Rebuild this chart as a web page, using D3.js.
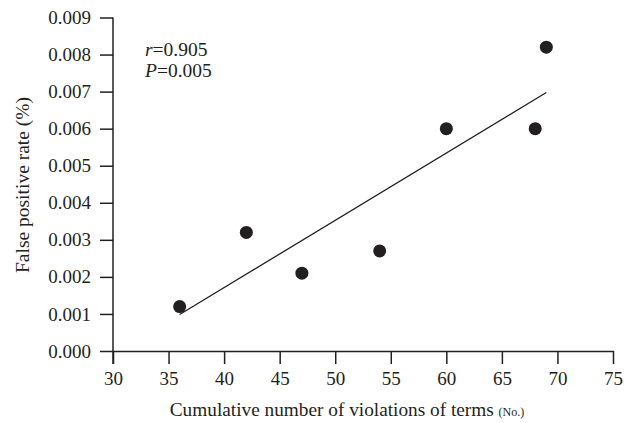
<!DOCTYPE html>
<html>
<head>
<meta charset="utf-8">
<script src="https://cdn.jsdelivr.net/npm/d3@7"></script>
<style>
  body { margin: 0; background: #fff; }
  svg text { font-family: "Liberation Serif", "DejaVu Serif", serif; fill: #231f20; }
</style>
</head>
<body>
<script>
const w = 624,
  h = 423;

// values
const violations = [36, 42, 47, 54, 60, 68, 69];
const falsePositive = [0.0012, 0.0032, 0.0021, 0.0027, 0.006, 0.006, 0.0082];
const xTicks = [30, 35, 40, 45, 50, 55, 60, 65, 70, 75];
const yTicks = [0, 0.001, 0.002, 0.003, 0.004, 0.005, 0.006, 0.007, 0.008, 0.009];
const statsText = [['r', '=0.905'], ['P', '=0.005']];

const x = d3.scaleLinear().domain([30, 75]).range([113, 613]);
const y = d3.scaleLinear().domain([0, 0.009]).range([351, 17.5]);

const svg = d3.select('body').append('svg').attr('width', w).attr('height', h);

// least squares fit
const mx = d3.mean(violations),
  my = d3.mean(falsePositive);
const slope =
  d3.sum(violations, (v, i) => (v - mx) * (falsePositive[i] - my)) /
  d3.sum(violations, v => (v - mx) * (v - mx));
const icpt = my - slope * mx;
const x0 = d3.min(violations),
  x1 = d3.max(violations);

const xAxis = d3.axisBottom(x).tickValues(xTicks).tickSize(13).tickPadding(8).tickSizeOuter(0);
const yAxis = d3
  .axisLeft(y)
  .tickValues(yTicks)
  .tickSize(13)
  .tickPadding(9)
  .tickSizeOuter(0)
  .tickFormat(d3.format('.3f'));

const gx = svg.append('g').attr('transform', `translate(0,${y(0)})`).call(xAxis);
const gy = svg.append('g').attr('transform', `translate(${x(30)},0)`).call(yAxis);

[gx, gy].forEach(g => {
  g.selectAll('path, line').attr('stroke', '#231f20').attr('stroke-width', 1.5);
  g.selectAll('text').attr('font-size', 19).style('fill', '#231f20');
});
// y axis runs down to meet the first x tick
gy.select('.domain').attr('d', `M0,${y(0.009)}V${y(0) + 13}`);

svg
  .append('line')
  .attr('x1', x(x0))
  .attr('y1', y(icpt + slope * x0))
  .attr('x2', x(x1))
  .attr('y2', y(icpt + slope * x1))
  .attr('stroke', '#231f20')
  .attr('stroke-width', 1.3);

svg
  .selectAll('circle')
  .data(violations)
  .enter()
  .append('circle')
  .attr('cx', d => x(d))
  .attr('cy', (d, i) => y(falsePositive[i]))
  .attr('r', 6.5)
  .attr('fill', '#231f20');

const stats = svg.append('g');
statsText.forEach((s, i) => {
  const t = stats
    .append('text')
    .attr('x', 145)
    .attr('y', 56 + i * 21)
    .attr('font-size', 19.5);
  t.append('tspan').attr('font-style', 'italic').text(s[0]);
  t.append('tspan').text(s[1]);
});

const xl = svg
  .append('text')
  .attr('x', 347)
  .attr('y', 416)
  .attr('text-anchor', 'middle')
  .attr('font-size', 19.3);
xl.append('tspan').text('Cumulative number of violations of terms ');
xl.append('tspan').attr('font-size', 12).text('(No.)');

svg
  .append('text')
  .attr('transform', `translate(29,185) rotate(-90)`)
  .attr('text-anchor', 'middle')
  .attr('font-size', 19.5)
  .text('False positive rate (%)');
</script>
</body>
</html>
